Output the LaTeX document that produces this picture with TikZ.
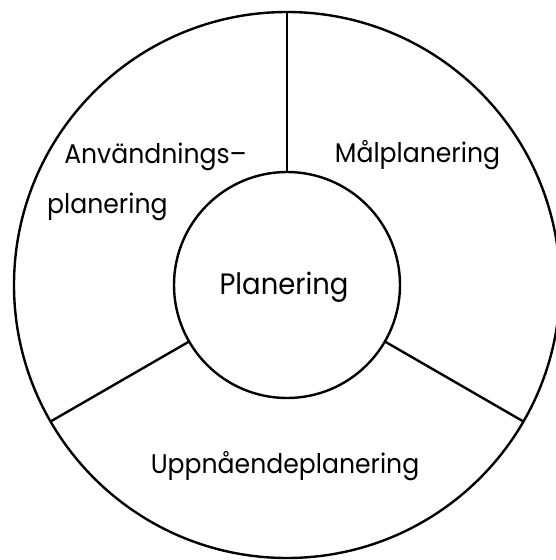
\documentclass[tikz,border=0pt]{standalone}
\usepackage{fontspec}
\setmainfont{Poppins}[FakeStretch=0.93]
\begin{document}
\begin{tikzpicture}[x=1pt,y=-1pt,
  ring/.style={draw,circle,line width=2.4pt,inner sep=0pt,outer sep=0pt},
  spoke/.style={line width=2.4pt},
  lbl/.style={anchor=base,inner sep=0pt,font=\fontsize{27}{30}\selectfont}]
\useasboundingbox (0,0) rectangle (556,560);
\clip (0,0) rectangle (556,560);
\node[ring,minimum size=546pt] (outer) at (287,285) {};
\node[ring,minimum size=226pt] (inner) at (287,285) {};
\draw[spoke] (inner.90) -- (outer.90);
\draw[spoke] (inner.210) -- (outer.210);
\draw[spoke] (inner.330) -- (outer.330);
\node[lbl] (anv) at (155.5,163) {Användnings–};
\node[lbl,anchor=base west] (plan2) at (47,213) {planering};
\node[lbl] (mal) at (417.5,162) {Målplanering};
\node[lbl,font=\fontsize{29.5}{32}\selectfont] (center) at (284,294) {Planering};
\node[lbl] (upp) at (285,473) {Uppnåendeplanering};
\end{tikzpicture}
\end{document}
